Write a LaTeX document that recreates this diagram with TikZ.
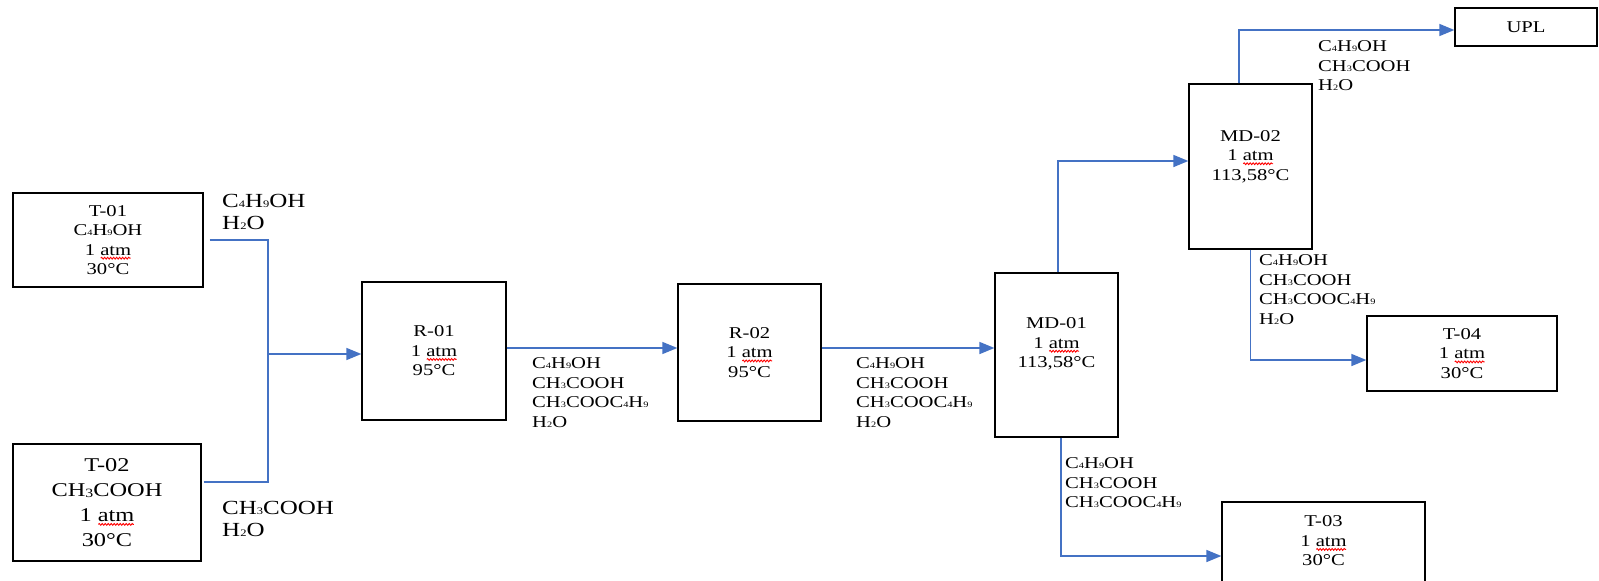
\documentclass[tikz,border=0pt]{standalone}
\usepackage{fontspec}
\setmainfont{Liberation Serif}[FakeStretch=1.25]
\usetikzlibrary{arrows.meta,calc,decorations.pathmorphing}
\definecolor{flow}{HTML}{4472C4}
\newcommand\mysub[1]{\scalebox{0.5}{#1}}
\newcommand\midsub[1]{\raisebox{-1.5pt}{\scalebox{0.65}{#1}}}
\newsavebox\atmbox
\newcommand\atm{\sbox\atmbox{atm}\rlap{\smash{\tikz[baseline=0pt]{\draw[red, line width=0.9pt, decorate, decoration={snake, amplitude=0.9pt, segment length=3pt}] (1pt,-3pt) -- (\wd\atmbox,-3pt);}}}\usebox\atmbox}
\newcommand\smallf{\fontsize{16.5}{19.5}\selectfont}
\newcommand\bigf{\fontsize{20}{22}\selectfont}
\newcommand\tankf{\fontsize{19.5}{25}\selectfont}
\begin{document}
\begin{tikzpicture}[x=1pt,y=-1pt,
  box/.style={draw=black, line width=1.3pt, inner sep=0pt, align=center, font=\smallf},
  txt/.style={inner sep=0pt, align=center, font=\smallf},
  lab/.style={anchor=north west, inner sep=0pt, align=left, font=\smallf},
  flowline/.style={draw=flow, line width=1.6pt},
  flowarrow/.style={flowline, -{Triangle[length=15pt,width=12pt]}}]
\useasboundingbox (0,0) rectangle (1599,581);
% boxes
\node[box, minimum width=190pt, minimum height=94pt] (T01) at (108,240)
  {T-01\\C\mysub{4}H\mysub{9}OH\\1 \atm\\30°C};
\node[box, minimum width=188pt, minimum height=117pt, font=\tankf] (T02) at (107,502.5)
  {T-02\\CH\midsub{3}COOH\\1 \atm\\30°C};
\node[box, minimum width=144pt, minimum height=138pt] (R01) at (434,351)
  {R-01\\1 \atm\\95°C};
\node[box, minimum width=143pt, minimum height=137pt] (R02) at (749.5,352.5)
  {R-02\\1 \atm\\95°C};
\node[box, minimum width=123pt, minimum height=164pt] (MD01) at (1056.5,355) {};
\node[txt] (MD01t) at (1056.5,344) {MD-01\\1 \atm\\113,58°C};
\node[box, minimum width=123pt, minimum height=165pt] (MD02) at (1250.5,166.5) {};
\node[txt] (MD02t) at (1250.5,156.5) {MD-02\\1 \atm\\113,58°C};
\node[box, minimum width=142pt, minimum height=38pt] (UPL) at (1526,27) {UPL};
\node[box, minimum width=190pt, minimum height=75pt] (T04) at (1462,353.5)
  {T-04\\1 \atm\\30°C};
\node[box, minimum width=203pt, minimum height=100pt] (T03) at (1323.5,552) {};
\node[txt] (T03t) at (1323.5,541) {T-03\\1 \atm\\30°C};
% connectors
\coordinate (j) at (268,354);
\draw[flowline] ([xshift=6pt]T01.east) -| (j);
\draw[flowline] ([xshift=2pt,yshift=20.5pt]T02.east) -| (j);
\draw[flowarrow] (j) -- (j -| R01.west);
\draw[flowarrow] ([yshift=3pt]R01.east) coordinate (a1) -- (a1 -| R02.west);
\draw[flowarrow] ([yshift=4.5pt]R02.east) coordinate (a2) -- (a2 -| MD01.west);
\draw[flowarrow] ([xshift=1.5pt]MD01.north) |- ([yshift=5.5pt]MD02.west);
\draw[flowarrow] ([xshift=-11.5pt]MD02.north) |- ([yshift=-3pt]UPL.west);
\draw[flowarrow] (MD02.south) |- ([yshift=-6.5pt]T04.west);
\draw[flowarrow] ([xshift=4.5pt]MD01.south) |- ([yshift=-4pt]T03.west);
% stream labels
\node[lab, font=\bigf] (L1) at (222,194.4) {C\mysub{4}H\mysub{9}OH\\H\mysub{2}O};
\node[lab, font=\bigf] (L2) at (222,501.4) {CH\mysub{3}COOH\\H\mysub{2}O};
\node[lab] (L3) at (532,357.5) {C\mysub{4}H\mysub{9}OH\\CH\mysub{3}COOH\\CH\mysub{3}COOC\mysub{4}H\mysub{9}\\H\mysub{2}O};
\node[lab] (L4) at (856,357.5) {C\mysub{4}H\mysub{9}OH\\CH\mysub{3}COOH\\CH\mysub{3}COOC\mysub{4}H\mysub{9}\\H\mysub{2}O};
\node[lab] (L5) at (1318,40.5) {C\mysub{4}H\mysub{9}OH\\CH\mysub{3}COOH\\H\mysub{2}O};
\node[lab] (L6) at (1259,254.5) {C\mysub{4}H\mysub{9}OH\\CH\mysub{3}COOH\\CH\mysub{3}COOC\mysub{4}H\mysub{9}\\H\mysub{2}O};
\node[lab] (L7) at (1065,457.5) {C\mysub{4}H\mysub{9}OH\\CH\mysub{3}COOH\\CH\mysub{3}COOC\mysub{4}H\mysub{9}};
\end{tikzpicture}
\end{document}
